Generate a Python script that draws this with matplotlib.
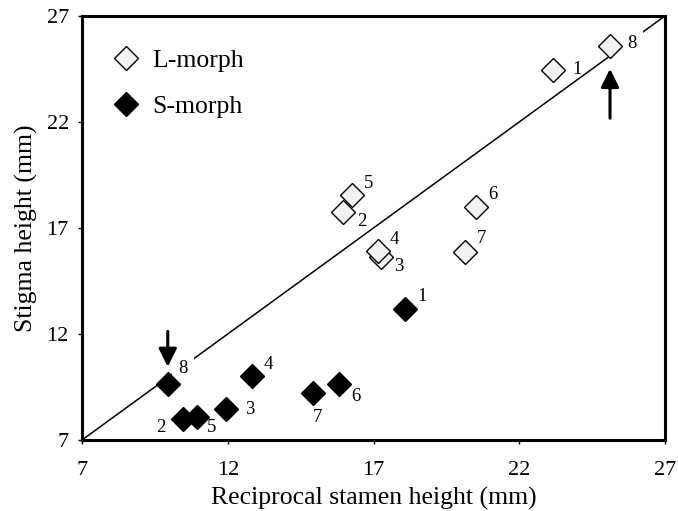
import matplotlib.pyplot as plt

# --------------------------------------------------
# Data
# --------------------------------------------------

L_ID = ["1", "2", "3", "4", "5", "6", "7", "8"]
L_X = [23.17, 15.96, 17.25, 17.14, 16.25, 20.51, 20.12, 25.11]
L_Y = [24.45, 17.77, 15.62, 15.93, 18.56, 18.00, 15.85, 25.58]

S_ID = ["1", "2", "3", "4", "5", "6", "7", "8"]
S_X = [18.09, 10.48, 11.93, 12.82, 10.93, 15.83, 14.93, 9.94]
S_Y = [13.17, 7.99, 8.46, 10.02, 8.07, 9.63, 9.23, 9.63]

AXIS_MIN, AXIS_MAX = 7, 27
TICKS = [7, 12, 17, 22, 27]

# label offsets in points (dx, dy) for each point number
L_OFF = {"1": (17, 0), "2": (13, -7), "3": (13, -7), "4": (12, 8),
         "5": (12, 8), "6": (12, 8.5), "7": (12, 10), "8": (16, 2)}
S_OFF = {"1": (12, 9), "2": (-16, -6), "3": (17, 0), "4": (12, 8),
         "5": (11, -7), "6": (12, -8.5), "7": (3, -18), "8": (11, 11.5)}

# --------------------------------------------------
# Plot
# --------------------------------------------------

plt.rcParams["font.family"] = ["Liberation Serif", "DejaVu Serif"]

fig = plt.figure(figsize=(6.78, 5.11), dpi=100)
ax = fig.add_axes([0.121, 0.139, 0.860, 0.830])

# 1:1 line
ax.plot([AXIS_MIN, AXIS_MAX], [AXIS_MIN, AXIS_MAX], color="black", lw=1.1, zorder=1)

ax.plot(L_X, L_Y, linestyle="none", marker="D", ms=12.5, mfc="#f2f2f2",
        mec="black", mew=1.0, label="L-morph", zorder=3)
ax.plot(S_X, S_Y, linestyle="none", marker="D", ms=12.5, mfc="black",
        mec="black", mew=1.0, label="S-morph", zorder=3)

# the "8" labels sit on the 1:1 line, which is broken around them
gap_box = dict(boxstyle="square,pad=0.35", fc="white", ec="none")
for ids, xs, ys, offs in [(L_ID, L_X, L_Y, L_OFF), (S_ID, S_X, S_Y, S_OFF)]:
    for i, x, y in zip(ids, xs, ys):
        ax.annotate(i, (x, y), xytext=offs[i], textcoords="offset points",
                    ha="center", va="center", fontsize=13.5,
                    bbox=gap_box if i == "8" else None, zorder=2)

# arrows marking population 8
arrow_style = dict(arrowstyle="-|>,head_width=0.55,head_length=1.1",
                   color="black", lw=2.2, shrinkA=0)
ax.annotate("", xy=(S_X[7], S_Y[7]), xytext=(0, 38), textcoords="offset points",
            arrowprops=dict(arrow_style, shrinkB=12.5))
ax.annotate("", xy=(L_X[7], L_Y[7]), xytext=(0, -52), textcoords="offset points",
            arrowprops=dict(arrow_style, shrinkB=16.5))

# --------------------------------------------------
# Styling
# --------------------------------------------------

ax.set_xlim(AXIS_MIN, AXIS_MAX)
ax.set_ylim(AXIS_MIN, AXIS_MAX)
ax.set_xticks(TICKS)
ax.set_yticks(TICKS)
ax.tick_params(direction="out", length=3, width=1, labelsize=16)
ax.tick_params(axis="x", pad=12)
ax.tick_params(axis="y", pad=6.5)

for sp in ax.spines.values():
    sp.set_linewidth(2.2)

ax.set_xlabel("Reciprocal stamen height (mm)", fontsize=18.5, labelpad=5)
ax.set_ylabel("Stigma height (mm)", fontsize=18.5, labelpad=6)

ax.legend(loc="upper left", bbox_to_anchor=(0, 0.988), frameon=False,
          fontsize=18.5, handletextpad=0.45, labelspacing=0.87,
          borderaxespad=0.7, handlelength=1.2)

plt.savefig("out.png", dpi=100)
